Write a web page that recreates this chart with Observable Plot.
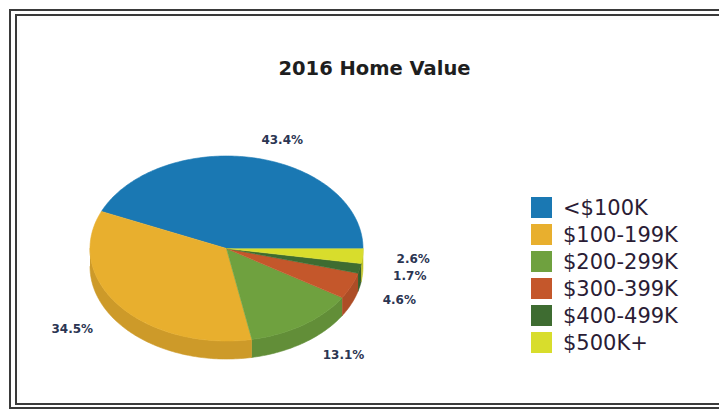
<!DOCTYPE html>
<html>
<head>
<meta charset="utf-8">
<script src="https://cdn.jsdelivr.net/npm/d3@7"></script>
<script src="https://cdn.jsdelivr.net/npm/@observablehq/plot@0.6"></script>
<style>
html, body { margin: 0; padding: 0; background: #fff; overflow: hidden; }
#wrap { position: relative; width: 719px; height: 409px; overflow: hidden; background: #fff; }
.frame { position: absolute; border: 2px solid #3a3a3a; box-sizing: border-box; }
#outer { left: 9px; top: 9px; width: 720px; height: 400px; }
#inner { left: 15px; top: 14px; width: 710px; height: 391px; }
#chart { position: absolute; left: 0; top: 0; }
#title { position: absolute; left: 0; top: 59px; width: 749px; text-align: center;
  font: bold 19.5px "DejaVu Sans", sans-serif; line-height: 19.5px; color: #1e1e1e; }
#legend { position: absolute; left: 531px; top: 194px; }
.lg-swatches { font-family: "DejaVu Sans", sans-serif !important; font-size: 21px !important; color: #2a1c35; margin: 0 !important; }
.lg-swatches .lg-swatch { height: 27px; padding-bottom: 0 !important; }
.lg-swatches .lg-swatch > svg { margin-right: 11px !important; }
.lg-swatch-label { overflow: visible !important; }
</style>
</head>
<body>
<div id="wrap">
  <div id="chart"></div>
  <div class="frame" id="outer"></div>
  <div class="frame" id="inner"></div>
  <div id="title"></div>
  <div id="legend"></div>
</div>
<script>
// ---- data ----
const chartTitle = "2016 Home Value";
const categories = ["<$100K", "$100-199K", "$200-299K", "$300-399K", "$400-499K", "$500K+"];
const shares = [43.4, 34.5, 13.1, 4.6, 1.7, 2.6];
const colors = ["#1a78b3", "#e8af2e", "#6fa13f", "#c4572b", "#3e6c31", "#d8dd2c"];

// ---- layout constants ----
const cx = 226, cy = 248, rx = 136.5, ry = 92.5;
const depth = 0.195;          // rim thickness in y units
const labelRx = 1.25, labelRy = 1.2;

// ---- geometry from data ----
const pie = d3.pie().sort(null).value(d => d)(shares);
const tops = [], sides = [], labels = [];
pie.forEach((p, i) => {
  const a0 = p.startAngle, a1 = p.endAngle;
  const n = Math.max(2, Math.ceil((a1 - a0) / (Math.PI / 180)));
  tops.push({k: i, x: 0, y: 0, c: colors[i]});
  for (let j = 0; j <= n; j++) {
    const t = a0 + (a1 - a0) * j / n;
    tops.push({k: i, x: Math.cos(t), y: Math.sin(t), c: colors[i]});
  }
  const s0 = Math.max(a0, Math.PI), s1 = Math.min(a1, 2 * Math.PI);
  if (s1 > s0) {
    const m = Math.max(2, Math.ceil((s1 - s0) / (Math.PI / 180)));
    const c = d3.color(colors[i]).darker(0.35).formatHex();
    const pts = d3.range(m + 1).map(j => s0 + (s1 - s0) * j / m);
    pts.forEach(t => sides.push({k: i, x: Math.cos(t), y: Math.sin(t), c}));
    pts.slice().reverse().forEach(t => sides.push({k: i, x: Math.cos(t), y: Math.sin(t) - depth, c}));
  }
  const mid = (a0 + a1) / 2;
  const s = Math.sin(mid);
  labels.push({
    x: labelRx * Math.cos(mid),
    y: labelRy * s + (s < 0 ? depth * s : 0),
    text: shares[i].toFixed(1) + "%",
    right: Math.cos(mid) >= 0
  });
});

const textStyle = {fontSize: 12, fontWeight: "bold", fontFamily: "DejaVu Sans, sans-serif", fill: "#2b3552"};

const plot = Plot.plot({
  width: 719,
  height: 409,
  margin: 0,
  x: {domain: [-1, 1], range: [cx - rx, cx + rx], axis: null},
  y: {domain: [-1, 1], range: [cy + ry, cy - ry], axis: null},
  color: {type: "identity"},
  style: {background: "transparent"},
  marks: [
    Plot.line(sides, {x: "x", y: "y", z: "k", fill: "c", stroke: "c", strokeWidth: 0.6, curve: "linear"}),
    Plot.line(tops, {x: "x", y: "y", z: "k", fill: "c", stroke: "c", strokeWidth: 0.6, curve: "linear"}),
    Plot.text(labels.filter(d => d.right), {x: "x", y: "y", text: "text", textAnchor: "start", ...textStyle}),
    Plot.text(labels.filter(d => !d.right), {x: "x", y: "y", text: "text", textAnchor: "end", ...textStyle})
  ]
});
document.getElementById("chart").appendChild(plot);
document.getElementById("title").textContent = chartTitle;

const legend = Plot.legend({
  color: {type: "ordinal", domain: categories, range: colors},
  legend: "swatches",
  columns: 1,
  swatchSize: 21,
  className: "lg"
});
document.getElementById("legend").appendChild(legend);
</script>
</body>
</html>
